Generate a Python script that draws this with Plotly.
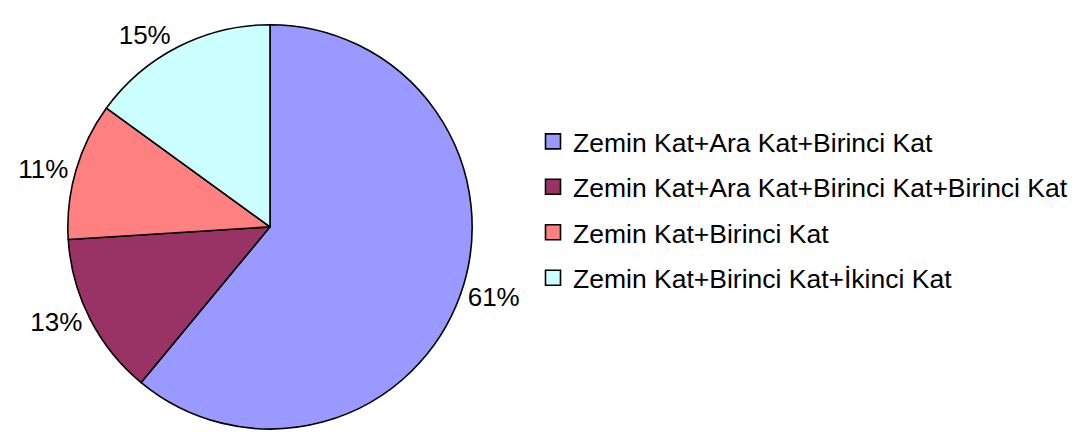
import plotly.graph_objects as go

# Kat düzeni dağılımı
categories = [
    "Zemin Kat+Ara Kat+Birinci Kat",
    "Zemin Kat+Ara Kat+Birinci Kat+Birinci Kat",
    "Zemin Kat+Birinci Kat",
    "Zemin Kat+Birinci Kat+İkinci Kat",
]
values = [61, 13, 11, 15]
colors = ["#9999FF", "#993366", "#FF8080", "#CCFFFF"]

FONT = "Arial, 'Liberation Sans', sans-serif"
W, H = 1085, 434

fig = go.Figure()

fig.add_trace(go.Pie(
    labels=categories,
    values=values,
    sort=False,
    direction="clockwise",
    rotation=0,
    marker=dict(colors=colors, line=dict(color="black", width=1.6)),
    textposition="outside",
    texttemplate="%{percent:.0%}",
    textfont=dict(family=FONT, size=26, color="black"),
    hoverinfo="label+percent",
    showlegend=False,
    domain=dict(x=[65 / W, 475 / W], y=[0, 1 - 25 / H]),
))

# Legend entries as square markers, one group each for the row spacing
for name, col in zip(categories, colors):
    fig.add_trace(go.Scatter(
        x=[None], y=[None], mode="markers", name=name,
        legendgroup=name,
        marker=dict(symbol="square", size=15, color=col,
                    line=dict(color="black", width=1.6)),
    ))

fig.update_layout(
    width=W, height=H,
    margin=dict(l=0, r=0, t=0, b=0),
    paper_bgcolor="white",
    plot_bgcolor="white",
    xaxis=dict(visible=False),
    yaxis=dict(visible=False),
    font=dict(family=FONT, size=26.5, color="black"),
    legend=dict(
        x=533 / W, xanchor="left",
        y=1 - 119 / H, yanchor="top",
        tracegroupgap=8,
        font=dict(family=FONT, size=26.5, color="black"),
        bgcolor="rgba(0,0,0,0)",
        itemwidth=30,
    ),
)

fig.write_html("out.html")
